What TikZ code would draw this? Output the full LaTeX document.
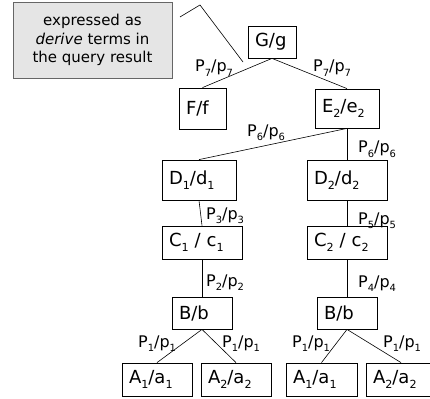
\documentclass[tikz,border=0pt]{standalone}
\usepackage{fontspec}
\usepackage{graphicx}
\setmainfont{DejaVu Sans}
\newcommand\sbs[1]{\raisebox{-0.3em}{\scalebox{0.62}{#1}}}
\begin{document}
\begin{tikzpicture}[x=1pt,y=-1pt,
  bx/.style={draw=black, line width=0.8pt, inner xsep=7pt, inner ysep=0pt, align=left,
    font=\fontsize{18}{20}\selectfont},
  lbl/.style={anchor=base west, inner sep=0pt, font=\fontsize{16}{18}\selectfont},
  conn/.style={line width=0.6pt, draw=black},
  callout/.style={draw=black!60, fill=black!10, line width=0.8pt, align=center,
    font=\fontsize{15}{18.3}\selectfont, minimum width=159pt, minimum height=76pt, inner sep=0pt}
]
\useasboundingbox (0,0) rectangle (430,398);

% callout
\node[callout] (note) at (92.5,40) {expressed as\\\textit{derive} terms in\\the query result};
\coordinate (l1) at (180,17);
\coordinate (l2) at (200,5);
\coordinate (l3) at (243,62);
\draw[conn] (l1) -- (l2) -- (l3);

% boxes
\node[bx, text width=34pt, minimum height=32pt] (G) at (272,42) {G/g};
\node[bx, text width=33pt, minimum height=41pt] (F) at (202.5,108.5) {F/f};
\node[bx, text width=50pt, minimum height=39pt] (E) at (347,108.5) {E\sbs{2}/e\sbs{2}};
\node[bx, text width=60pt, minimum height=40pt] (D1) at (199,180) {D\sbs{1}/d\sbs{1}};
\node[bx, text width=66pt, minimum height=40pt] (D2) at (347,180) {D\sbs{2}/d\sbs{2}};
\node[bx, text width=66pt, minimum height=33pt] (C1) at (202,242.5) {C\sbs{1} / c\sbs{1}};
\node[bx, text width=66pt, minimum height=33pt] (C2) at (347,242.5) {C\sbs{2} / c\sbs{2}};
\node[bx, text width=46pt, minimum height=32pt] (B1) at (202,313) {B/b};
\node[bx, text width=46pt, minimum height=32pt] (B2) at (347,313) {B/b};
\node[bx, text width=56pt, minimum height=33pt] (A11) at (157,379.5) {A\sbs{1}/a\sbs{1}};
\node[bx, text width=56pt, minimum height=33pt] (A12) at (236,379.5) {A\sbs{2}/a\sbs{2}};
\node[bx, text width=57pt, minimum height=33pt] (A21) at (321.5,379.5) {A\sbs{1}/a\sbs{1}};
\node[bx, text width=56pt, minimum height=33pt] (A22) at (401,379.5) {A\sbs{2}/a\sbs{2}};

% connectors
\draw[conn] (G.south) -- (F.north);
\draw[conn] (G.south) -- (E.north);
\draw[conn] (E.south) -- (D1.north);
\draw[conn] (E.south) -- (D2.north);
\draw[conn] (D1.south) -- (C1.north);
\draw[conn] (D2.south) -- (C2.north);
\draw[conn] (C1.south) -- (B1.north);
\draw[conn] (C2.south) -- (B2.north);
\draw[conn] (B1.south) -- (A11.north);
\draw[conn] (B1.south) -- (A12.north);
\draw[conn] (B2.south) -- (A21.north);
\draw[conn] (B2.south) -- (A22.north);

% labels
\node[lbl] (p7a) at (195,72) {P\sbs{7}/p\sbs{7}};
\node[lbl] (p7b) at (313,72) {P\sbs{7}/p\sbs{7}};
\node[lbl] (p6a) at (247,136) {P\sbs{6}/p\sbs{6}};
\node[lbl] (p6b) at (358,153) {P\sbs{6}/p\sbs{6}};
\node[lbl] (p3) at (206,219) {P\sbs{3}/p\sbs{3}};
\node[lbl] (p5) at (358,224) {P\sbs{5}/p\sbs{5}};
\node[lbl] (p2) at (206,286) {P\sbs{2}/p\sbs{2}};
\node[lbl] (p4) at (358,287) {P\sbs{4}/p\sbs{4}};
\node[lbl] (p1a) at (138,347) {P\sbs{1}/p\sbs{1}};
\node[lbl] (p1b) at (222,347) {P\sbs{1}/p\sbs{1}};
\node[lbl] (p1c) at (292,347) {P\sbs{1}/p\sbs{1}};
\node[lbl] (p1d) at (383,347) {P\sbs{1}/p\sbs{1}};
\end{tikzpicture}
\end{document}
